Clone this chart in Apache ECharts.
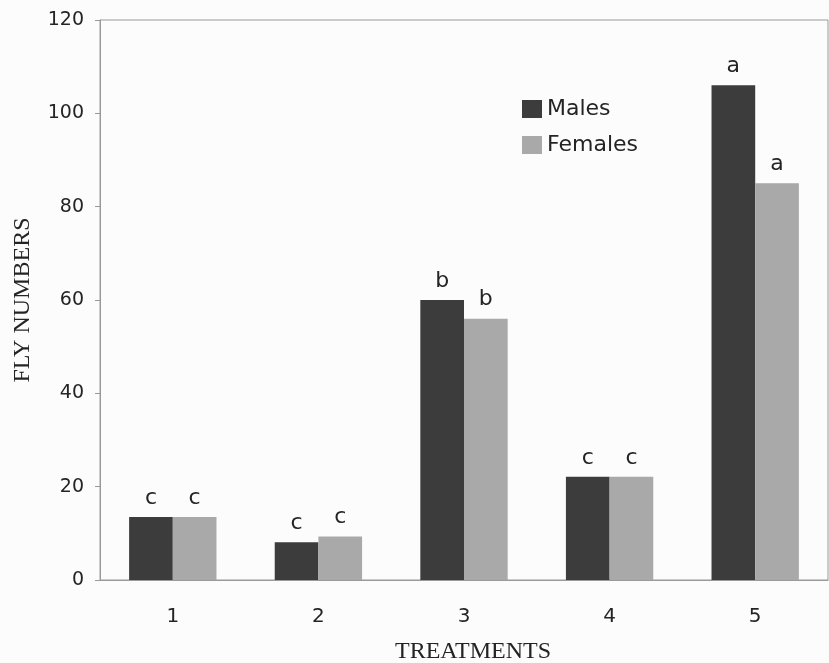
<!DOCTYPE html>
<html>
<head>
<meta charset="utf-8">
<script src="https://cdn.jsdelivr.net/npm/echarts@6/dist/echarts.min.js"></script>
<style>
  html, body { margin: 0; padding: 0; background: #fcfcfc; }
  #chart { width: 829px; height: 663px; }
</style>
</head>
<body>
<div id="chart"></div>
<script>
// Fly counts per treatment, by sex, with significance letters
const treatments = ['1', '2', '3', '4', '5'];
const males = [13.5, 8.1, 60, 22.1, 106];
const females = [13.5, 9.3, 56, 22.1, 85];
const maleLetters = ['c', 'c', 'b', 'c', 'a'];
const femaleLetters = ['c', 'c', 'b', 'c', 'a'];
const yTicks = [0, 20, 40, 60, 80, 100, 120];

const SANS = 'DejaVu Sans, Liberation Sans, Arial, sans-serif';
const SERIF = 'Liberation Serif, Times New Roman, serif';
const INK = '#242424';

const chart = echarts.init(document.getElementById('chart'));

function letterLabel(letters) {
  return {
    show: true,
    position: 'top',
    distance: 8,
    fontFamily: SANS,
    fontSize: 22,
    color: INK,
    formatter: p => letters[p.dataIndex]
  };
}

chart.setOption({
  backgroundColor: '#fcfcfc',
  animation: false,
  grid: {
    left: 100, right: 1, top: 20, bottom: 83,
    containLabel: false,
    outerBoundsMode: 'none',
    show: true,
    borderColor: '#9a9a9a',
    borderWidth: 1
  },
  legend: {
    orient: 'vertical',
    left: 522,
    top: 98,
    padding: 0,
    itemWidth: 20,
    itemHeight: 18,
    itemGap: 14,
    itemStyle: { borderWidth: 0 },
    textStyle: {
      fontFamily: SANS,
      fontSize: 22,
      lineHeight: 18,
      color: INK
    },
    data: [
      { name: 'Males', icon: 'rect' },
      { name: 'Females', icon: 'rect' }
    ]
  },
  xAxis: {
    type: 'category',
    data: treatments,
    name: 'TREATMENTS',
    nameLocation: 'middle',
    nameGap: 60,
    nameTextStyle: {
      fontFamily: SERIF,
      fontSize: 24,
      color: INK,
      padding: [0, 0, 0, 18]
    },
    axisLine: { lineStyle: { color: '#9a9a9a', width: 1 } },
    axisTick: { show: false },
    axisLabel: {
      margin: 27,
      fontFamily: SANS,
      fontSize: 20,
      color: INK
    }
  },
  yAxis: {
    type: 'value',
    min: yTicks[0],
    max: yTicks[yTicks.length - 1],
    interval: yTicks[1] - yTicks[0],
    name: 'FLY NUMBERS',
    nameLocation: 'middle',
    nameGap: 65,
    nameTextStyle: {
      fontFamily: SERIF,
      fontSize: 24,
      color: INK
    },
    axisLine: { show: true, lineStyle: { color: '#9a9a9a', width: 1 } },
    axisTick: { show: true, inside: false, length: 5, lineStyle: { color: '#9a9a9a' } },
    splitLine: { show: false },
    axisLabel: {
      margin: 16,
      fontFamily: SANS,
      fontSize: 19,
      color: INK
    }
  },
  series: [
    {
      name: 'Males',
      type: 'bar',
      data: males,
      barGap: '0%',
      barCategoryGap: '40%',
      itemStyle: { color: '#3c3c3c' },
      label: letterLabel(maleLetters)
    },
    {
      name: 'Females',
      type: 'bar',
      data: females,
      itemStyle: { color: '#a9a9a9' },
      label: letterLabel(femaleLetters)
    }
  ]
});
</script>
</body>
</html>
